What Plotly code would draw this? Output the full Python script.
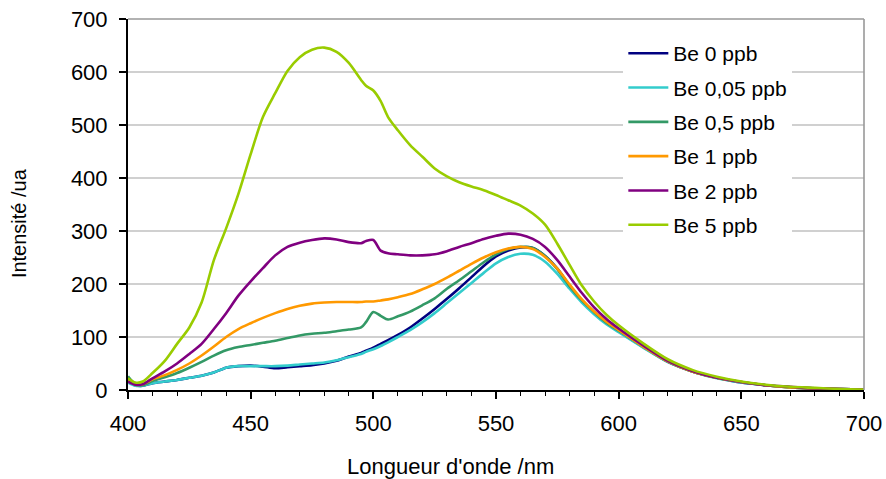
import plotly.graph_objects as go

# Emission spectra of beryllium standards (fluorescence intensity vs wavelength)
wavelength = [400, 403, 406, 410, 415, 420, 425, 430, 435, 440, 445, 450, 455, 460,
              465, 470, 475, 480, 485, 490, 495, 497, 500, 503, 506, 510, 515, 520,
              525, 530, 535, 540, 545, 550, 555, 560, 565, 570, 575, 580, 585, 590,
              595, 600, 610, 620, 630, 640, 650, 660, 670, 680, 690, 700]

be_0 = [16, 9, 8, 13, 16, 19, 23, 27, 33, 42, 45, 46, 44, 41,
        43, 45, 47, 50, 55, 63, 70, 74, 80, 87, 94, 104, 118, 135,
        153, 172, 192, 213, 234, 252, 263, 269, 268, 253, 229, 197, 169, 146,
        126, 111, 81, 53, 35, 23, 14, 9, 5, 3, 2, 1]

be_0_05 = [14, 8, 8, 13, 16, 19, 23, 27, 33, 42, 45, 45, 45, 45,
           46, 48, 50, 52, 56, 62, 68, 72, 77, 83, 90, 100, 113, 128,
           145, 164, 183, 202, 221, 239, 251, 257, 255, 242, 219, 191, 165, 143,
           124, 109, 80, 53, 35, 22, 14, 9, 5, 3, 2, 1]

be_0_5 = [26, 11, 9, 17, 24, 32, 42, 53, 65, 75, 81, 85, 89, 93,
          98, 103, 106, 108, 111, 114, 118, 128, 147, 140, 133, 139, 148, 160,
          173, 191, 207, 224, 241, 256, 266, 270, 268, 253, 228, 196, 169, 147,
          127, 112, 82, 54, 35, 23, 15, 9, 5, 3, 2, 1]

be_1 = [18, 10, 11, 20, 28, 38, 50, 65, 82, 100, 115, 126, 136, 145,
        153, 159, 163, 165, 166, 166, 166, 167, 167, 169, 171, 175, 181, 190,
        200, 212, 225, 238, 250, 260, 267, 270, 266, 251, 229, 199, 171, 148,
        129, 113, 82, 54, 35, 23, 15, 9, 5, 3, 2, 1]

be_2 = [16, 10, 11, 22, 35, 50, 68, 87, 115, 145, 178, 205, 230, 254,
        270, 278, 283, 286, 284, 279, 277, 281, 283, 263, 258, 256, 254, 254,
        256, 262, 270, 277, 285, 291, 295, 293, 285, 270, 245, 214, 183, 156,
        134, 116, 84, 55, 36, 23, 15, 9, 6, 3, 2, 1]

be_5 = [22, 14, 16, 32, 55, 87, 118, 165, 245, 305, 370, 445, 515, 560,
        602, 628, 642, 646, 638, 617, 585, 574, 565, 545, 515, 490, 462, 440,
        418, 403, 392, 384, 377, 368, 358, 348, 333, 312, 276, 236, 197, 167,
        142, 122, 88, 58, 38, 25, 16, 10, 6, 4, 2, 1]

series_names = ["Be 0 ppb", "Be 0,05 ppb", "Be 0,5 ppb", "Be 1 ppb", "Be 2 ppb", "Be 5 ppb"]
series_values = [be_0, be_0_05, be_0_5, be_1, be_2, be_5]
series_colors = ["#000080", "#33CCCC", "#339966", "#FF9900", "#800080", "#99CC00"]

x_ticks = [400, 450, 500, 550, 600, 650, 700]
y_ticks = [0, 100, 200, 300, 400, 500, 600, 700]

FONT = "Arial, Liberation Sans, sans-serif"

fig = go.Figure()
for i, (name, vals, col) in enumerate(zip(series_names, series_values, series_colors)):
    fig.add_trace(go.Scatter(
        x=wavelength, y=vals, name=name, mode="lines",
        line=dict(color=col, width=2.6, shape="spline", smoothing=0.8),
        legendgroup=f"g{i}",
    ))

fig.update_layout(
    width=886, height=479,
    margin=dict(l=128, r=22, t=19, b=89, autoexpand=False),
    paper_bgcolor="white", plot_bgcolor="white",
    font=dict(family=FONT, color="black"),
    showlegend=True,
    legend=dict(
        x=0.673, y=0.962, xanchor="left", yanchor="top",
        bgcolor="white", borderwidth=0,
        font=dict(family=FONT, size=21, color="black"),
        tracegroupgap=4, itemwidth=40,
    ),
    xaxis=dict(
        range=[400, 700], tickvals=x_ticks, ticktext=[str(v) for v in x_ticks],
        showgrid=False, zeroline=False, automargin=False,
        showline=True, linecolor="black", linewidth=2,
        ticks="outside", ticklen=7, tickwidth=1.5, tickcolor="black",
        tickfont=dict(family=FONT, size=22, color="black"),
        ticklabelstandoff=6,
        minor=dict(dtick=10, ticks="outside", ticklen=4, tickwidth=1.2, tickcolor="black", showgrid=False),
    ),
    yaxis=dict(
        range=[0, 700], tickvals=y_ticks, ticktext=[str(v) for v in y_ticks],
        showgrid=True, gridcolor="#d0d0d0", gridwidth=1.6, zeroline=False, automargin=False,
        showline=True, linecolor="black", linewidth=2,
        ticks="outside", ticklen=7, tickwidth=1.5, tickcolor="black",
        tickfont=dict(family=FONT, size=22, color="black"),
        ticklabelstandoff=7,
    ),
)

# Gray frame on the top and right sides of the plot area
fig.add_shape(type="line", xref="paper", yref="paper", x0=0, x1=1, y0=1, y1=1,
              line=dict(color="#999999", width=1.6))
fig.add_shape(type="line", xref="paper", yref="paper", x0=1, x1=1, y0=0, y1=1,
              line=dict(color="#999999", width=1.6))

# Axis titles
fig.add_annotation(text="Longueur d'onde /nm", xref="paper", yref="paper",
                   x=0.4375, y=-0.205, xanchor="center", yanchor="middle",
                   showarrow=False, font=dict(family=FONT, size=22, color="black"))
fig.add_annotation(text="Intensité /ua", xref="paper", yref="paper",
                   x=-0.148, y=0.45, xanchor="center", yanchor="middle", textangle=-90,
                   showarrow=False, font=dict(family=FONT, size=20, color="black"))

fig.write_html("out.html")
